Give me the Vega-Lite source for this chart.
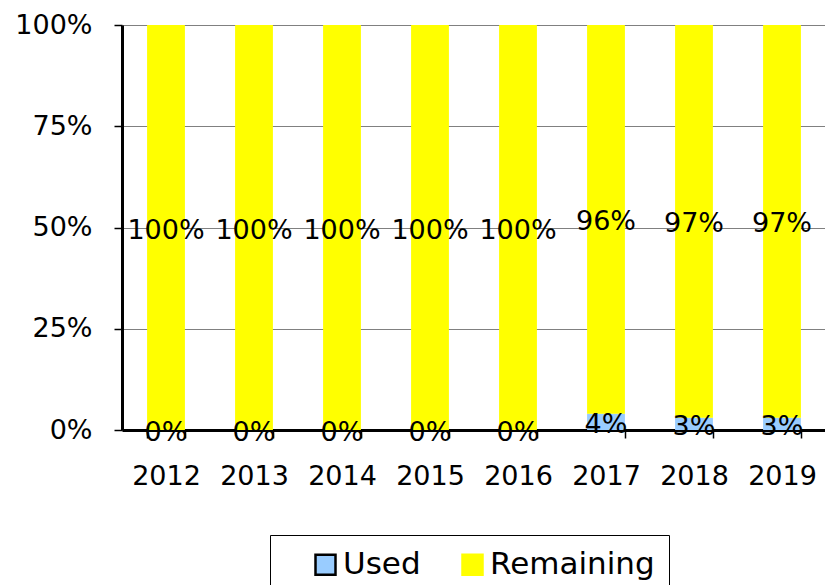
{
  "$schema": "https://vega.github.io/schema/vega-lite/v6.json",
  "width": 704,
  "height": 405,
  "autosize": {"type": "none"},
  "padding": {"left": 122, "top": 25, "right": 0, "bottom": 155},
  "config": {"view": {"stroke": null}, "font": "DejaVu Sans"},
  "data": {
    "values": [
      {"year": "2012", "series": "Used", "value": 0},
      {"year": "2012", "series": "Remaining", "value": 1},
      {"year": "2013", "series": "Used", "value": 0},
      {"year": "2013", "series": "Remaining", "value": 1},
      {"year": "2014", "series": "Used", "value": 0},
      {"year": "2014", "series": "Remaining", "value": 1},
      {"year": "2015", "series": "Used", "value": 0},
      {"year": "2015", "series": "Remaining", "value": 1},
      {"year": "2016", "series": "Used", "value": 0},
      {"year": "2016", "series": "Remaining", "value": 1},
      {"year": "2017", "series": "Used", "value": 0.04},
      {"year": "2017", "series": "Remaining", "value": 0.96},
      {"year": "2018", "series": "Used", "value": 0.03},
      {"year": "2018", "series": "Remaining", "value": 0.97},
      {"year": "2019", "series": "Used", "value": 0.03},
      {"year": "2019", "series": "Remaining", "value": 0.97}
    ]
  },
  "encoding": {
    "x": {
      "field": "year",
      "type": "ordinal",
      "scale": {"paddingInner": 0.57, "paddingOuter": 0.285},
      "axis": {
        "title": null,
        "labelAngle": 0,
        "labelFontSize": 27,
        "labelColor": "#000000",
        "labelPadding": 25,
        "tickBand": "extent",
        "tickSize": 8,
        "tickColor": "#000000",
        "tickWidth": 1.5,
        "domainColor": "#000000",
        "domainWidth": 3,
        "grid": false
      }
    }
  },
  "layer": [
    {
      "mark": {"type": "bar", "strokeWidth": 0},
      "encoding": {
        "y": {
          "field": "value",
          "type": "quantitative",
          "stack": "normalize",
          "scale": {"domain": [0, 1], "nice": false},
          "axis": {
            "title": null,
            "values": [0, 0.25, 0.5, 0.75, 1],
            "format": ".0%",
            "labelFontSize": 27,
            "labelColor": "#000000",
            "labelPadding": 22,
            "tickSize": 8,
            "tickColor": "#000000",
            "tickWidth": 1.5,
            "domainColor": "#000000",
            "domainWidth": 3,
            "grid": true,
            "gridColor": "#808080",
            "gridWidth": 1
          }
        },
        "fill": {
          "field": "series",
          "type": "nominal",
          "scale": {"domain": ["Used", "Remaining"], "range": ["#99CCFF", "#FFFF00"]},
          "legend": {
            "title": null,
            "orient": "none",
            "legendX": 148,
            "legendY": 510,
            "direction": "horizontal",
            "strokeColor": "#000000",
            "padding": 14,
            "symbolType": "square",
            "symbolSize": 400,
            "symbolStrokeWidth": 2.5,
            "labelFontSize": 31,
            "labelLimit": 400,
            "labelColor": "#000000",
            "symbolOffset": 26,
            "columnPadding": 10,
            "labelOffset": 2
          }
        },
        "stroke": {
          "field": "series",
          "type": "nominal",
          "scale": {"domain": ["Used", "Remaining"], "range": ["#000000", "#FFFF00"]},
          "legend": {
            "title": null,
            "orient": "none",
            "legendX": 148,
            "legendY": 510,
            "direction": "horizontal",
            "strokeColor": "#000000",
            "padding": 14,
            "symbolType": "square",
            "symbolSize": 400,
            "symbolStrokeWidth": 2.5,
            "labelFontSize": 31,
            "labelLimit": 400,
            "labelColor": "#000000",
            "symbolOffset": 26,
            "columnPadding": 10,
            "labelOffset": 2
          }
        },
        "order": {"field": "series", "type": "nominal", "sort": "descending"}
      }
    },
    {
      "transform": [
        {
          "stack": "value",
          "groupby": ["year"],
          "sort": [{"field": "series", "order": "descending"}],
          "offset": "normalize",
          "as": ["v0", "v1"]
        },
        {"fold": ["v0", "v1"], "as": ["k", "pos"]}
      ],
      "mark": {"type": "text", "fontSize": 27, "color": "#000000", "baseline": "middle", "dy": 3},
      "encoding": {
        "y": {"aggregate": "mean", "field": "pos", "type": "quantitative"},
        "detail": {"field": "series", "type": "nominal"},
        "text": {"aggregate": "max", "field": "value", "type": "quantitative", "format": ".0%"}
      }
    }
  ]
}
